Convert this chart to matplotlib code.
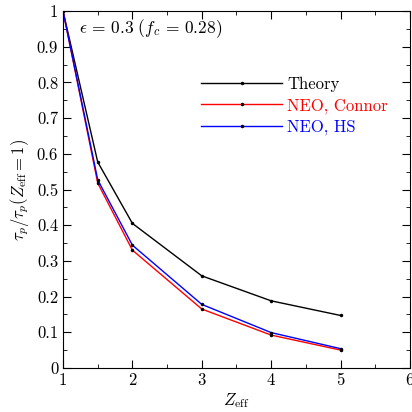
import numpy as np
import matplotlib
matplotlib.use('Agg')
import matplotlib.pyplot as plt
from matplotlib.ticker import MultipleLocator, FuncFormatter

plt.rcParams['font.family'] = 'serif'
plt.rcParams['font.serif'] = ['cmr10']
plt.rcParams['mathtext.fontset'] = 'cm'
plt.rcParams['axes.formatter.use_mathtext'] = True

# data
zeff = [1, 1.5, 2, 3, 4, 5]
theory = [1.0, 0.577, 0.405, 0.258, 0.188, 0.147]
neo_connor = [1.0, 0.518, 0.330, 0.165, 0.092, 0.050]
neo_hs = [1.0, 0.527, 0.344, 0.178, 0.099, 0.054]

fig = plt.figure(figsize=(4.12, 4.12), dpi=100)
ax = fig.add_axes([0.153, 0.107, 0.842, 0.866])

style = dict(lw=1.0, marker='.', ms=3, mfc='black', mec='black')
ax.plot(zeff, theory, color='black', label='Theory', **style)
ax.plot(zeff, neo_connor, color='red', label='NEO, Connor', **style)
ax.plot(zeff, neo_hs, color='blue', label='NEO, HS', **style)

ax.set_xlim(1, 6)
ax.set_ylim(0, 1)
ax.xaxis.set_major_locator(MultipleLocator(1))
ax.xaxis.set_minor_locator(MultipleLocator(0.5))
ax.yaxis.set_major_locator(MultipleLocator(0.1))
ax.yaxis.set_minor_locator(MultipleLocator(0.05))
fmt = FuncFormatter(lambda v, p: '%g' % round(v, 2))
ax.xaxis.set_major_formatter(fmt)
ax.yaxis.set_major_formatter(fmt)
ax.tick_params(which='both', direction='in', top=True, right=True, labelsize=12)
ax.tick_params(which='major', length=6)
ax.tick_params(which='minor', length=3)

ax.set_xlabel(r'$Z_{\rm eff}$', fontsize=12, labelpad=2)
ax.set_ylabel(r'$\tau_p/\tau_p(Z_{\rm eff}=1)$', fontsize=12, labelpad=4)

ax.text(0.045, 0.95, r'$\epsilon\,=\,0.3\ (f_c\,=\,0.28)$', transform=ax.transAxes,
        fontsize=12.5, va='center', ha='left')

leg = ax.legend(loc='upper right', bbox_to_anchor=(0.98, 0.858), frameon=False,
                fontsize=12, handlelength=4.9, handletextpad=0.3, labelspacing=0.35)
for txt, c in zip(leg.get_texts(), ['black', 'red', 'blue']):
    txt.set_color(c)

fig.savefig('out.png', dpi=100)
